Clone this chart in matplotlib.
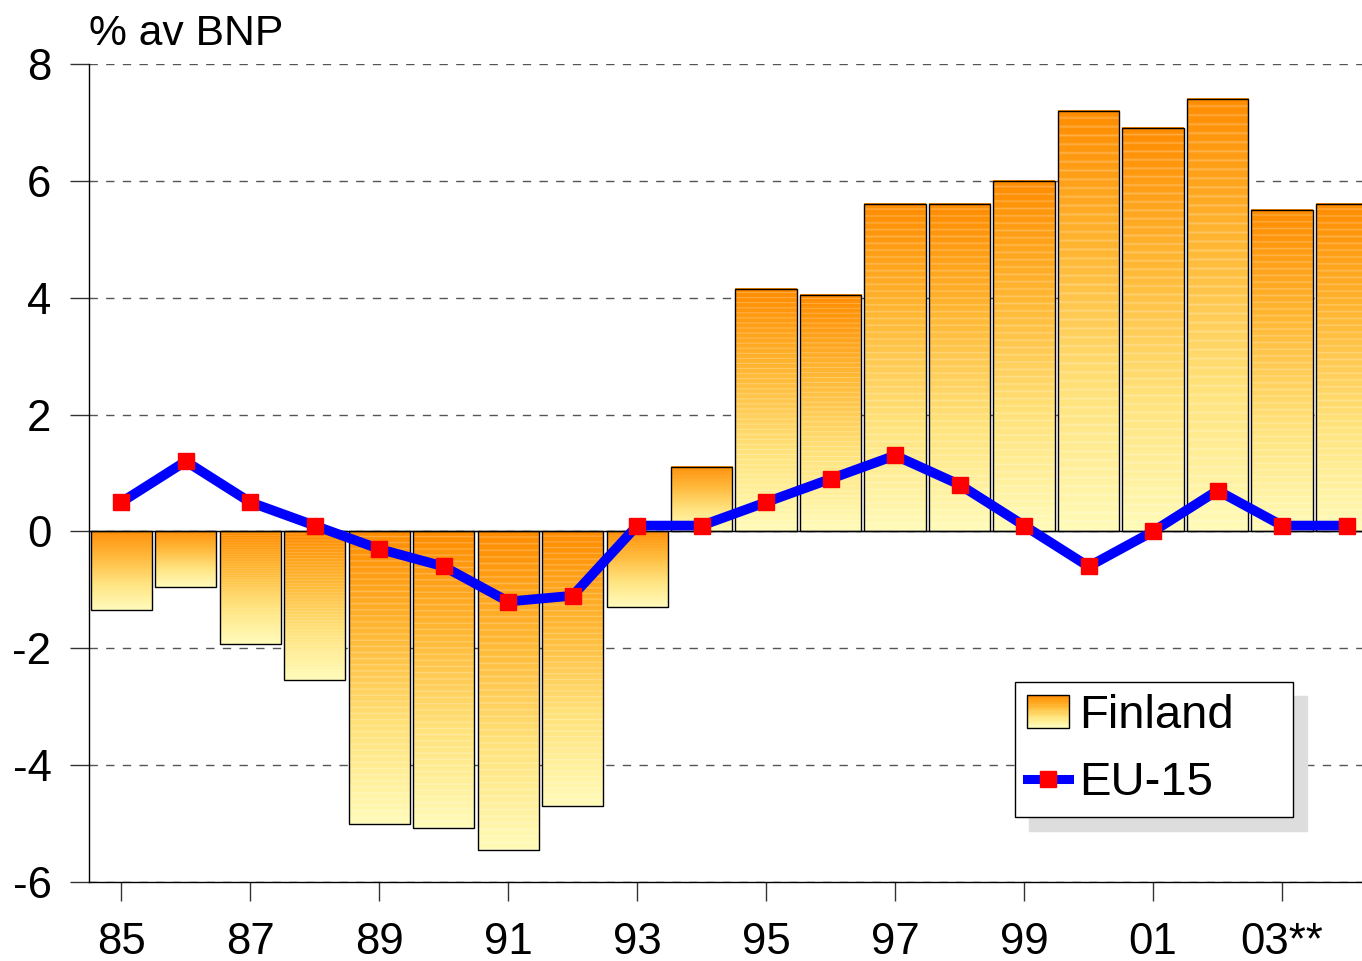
#! /usr/bin/env python3

import numpy as np
import matplotlib.pyplot as plt
from matplotlib.colors import LinearSegmentedColormap
from matplotlib.legend_handler import HandlerBase
from matplotlib.patches import Rectangle
from matplotlib.lines import Line2D

plt.rcParams['font.family'] = ['Liberation Sans', 'DejaVu Sans']
plt.rcParams['axes.unicode_minus'] = False

years = np.arange(1985, 2005)
finland = [-1.35, -0.95, -1.92, -2.55, -5.0, -5.08, -5.45, -4.7, -1.3, 1.1,
           4.15, 4.05, 5.6, 5.6, 6.0, 7.2, 6.9, 7.4, 5.5, 5.6]
eu15 = [0.5, 1.2, 0.5, 0.1, -0.3, -0.6, -1.2, -1.1, 0.1, 0.1,
        0.5, 0.9, 1.3, 0.8, 0.1, -0.6, 0.0, 0.7, 0.1, 0.1]
tick_years = [1985, 1987, 1989, 1991, 1993, 1995, 1997, 1999, 2001, 2003]
tick_labels = ['85', '87', '89', '91', '93', '95', '97', '99', '01', '03**']

cmap = LinearSegmentedColormap.from_list(
    'fin', ['#fffbb8', '#ffe27a', '#ffb733', '#ff8c00'])

# gradient texture: yellow at bottom, orange at top, faint light stripes
n = 240
grad = cmap(np.linspace(0, 1, n))[:, None, :].copy()
grad[::5, :, :3] = grad[::5, :, :3] * 0.75 + 0.25


class GradHandler(HandlerBase):
    def create_artists(self, legend, orig_handle, xdescent, ydescent,
                       width, height, fontsize, trans):
        arts = []
        k = 14
        for i in range(k):
            arts.append(Rectangle((-xdescent, -ydescent + height * i / k), width, height / k,
                                  facecolor=cmap(i / (k - 1)), edgecolor='none', transform=trans))
        arts.append(Rectangle((-xdescent, -ydescent), width, height, facecolor='none',
                              edgecolor='black', lw=1, transform=trans))
        return arts


fig = plt.figure(figsize=(13.62, 9.61), dpi=100)
ax = fig.add_axes([89 / 1362, 1 - 882 / 961, 1 - 89 / 1362, (882 - 64) / 961])

w = 0.95
for x, v in zip(years, finland):
    ax.imshow(grad, extent=(x - w / 2, x + w / 2, min(0, v), max(0, v)),
              origin='lower', aspect='auto', interpolation='bilinear', zorder=1)
ax.bar(years, finland, w, facecolor='none', edgecolor='black', lw=1, zorder=2)
ax.axhline(0, color='black', lw=1, zorder=3)
ax.plot(years, eu15, color='#0000ff', lw=7, marker='s', ms=11,
        mfc='#ff0000', mec='#ff0000', zorder=4)

ax.set_xlim(1984.5, 2004.24)
ax.set_ylim(-6, 8)
ax.set_yticks(range(-6, 9, 2))
ax.set_xticks(tick_years)
ax.set_xticklabels(tick_labels)
ax.yaxis.grid(True, color='#555555', lw=1, linestyle=(0, (6, 6)))
ax.set_axisbelow(True)
for s in ['top', 'right']:
    ax.spines[s].set_visible(False)
for s in ['left', 'bottom']:
    ax.spines[s].set_color('black')
    ax.spines[s].set_linewidth(1)
ax.tick_params(axis='x', length=14, width=1, pad=15, labelsize=31.5, color='#333333')
ax.tick_params(axis='y', length=14, width=1, pad=13, labelsize=31.5, color='#333333')

fig.text(89 / 1362, 1 - 45 / 961, '% av BNP', fontsize=30.7, va='baseline', ha='left')

fin_proxy = Rectangle((0, 0), 1, 1)
eu_proxy = Line2D([], [], color='#0000ff', lw=6.5, marker='s', ms=11,
                  mfc='#ff0000', mec='#ff0000')
leg = ax.legend([fin_proxy, eu_proxy], ['Finland', 'EU-15'],
                handler_map={fin_proxy: GradHandler()},
                loc='upper left', mode='expand',
                bbox_to_anchor=(1015 / 1362, 1 - 819 / 961, (1293 - 1015) / 1362, (819 - 682) / 961),
                bbox_transform=fig.transFigure, borderaxespad=0,
                fontsize=34, handlelength=0.9, handletextpad=0.2, borderpad=0.25,
                labelspacing=0.5, fancybox=False, framealpha=1, edgecolor='black',
                shadow={'ox': 10, 'oy': -10, 'facecolor': '#dddddd',
                        'edgecolor': '#dddddd', 'alpha': 1})
leg.get_frame().set_linewidth(1)

fig.savefig('out.png', dpi=100)
